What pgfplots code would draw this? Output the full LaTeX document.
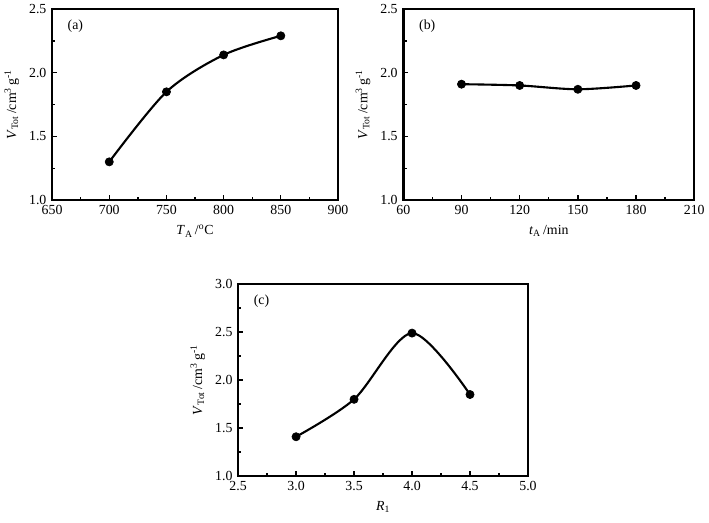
\documentclass[border=0pt]{standalone}
\usepackage{fontspec}
\setmainfont{Liberation Serif}
\usepackage{pgfplots}
\pgfplotsset{compat=1.18}
\newcommand\fs{\fontsize{10.5}{12}\selectfont}
\pgfplotsset{
  panel/.style={scale only axis, line width=1.9pt,
    tick align=inside, xtick pos=bottom, ytick pos=left,
    minor tick num=1, major tick length=3.5pt, minor tick length=2.5pt,
    every tick/.style={black, line width=1pt},
    tick label style={font=\fs}, label style={font=\fs},
    /pgf/number format/assume math mode=true,
    yticklabel style={/pgf/number format/.cd, fixed, fixed zerofill, precision=1},
    ylabel={\textit{V}\textsubscript{Tot}\,/cm\textsuperscript{3}\,g\textsuperscript{-1}},
    ylabel shift=0pt},
  crv/.style={black, line width=1.6pt, smooth, mark=*, mark size=3.1pt,
    mark options={fill=black, line width=0.5pt}},
}
\tikzset{tag/.style={anchor=north west, font=\fs}}
\begin{document}
\begin{tikzpicture}
\path (0,0) rectangle (531.75pt,-394.5pt);
% (a)
\begin{axis}[panel, at={(36.75pt,-5.25pt)}, anchor=north west,
  width=216.75pt, height=144.75pt,
  xmin=650, xmax=900, xtick={650,700,...,900},
  ymin=1, ymax=2.5, ytick={1,1.5,2,2.5},
  xticklabel style={/pgf/number format/.cd, fixed, precision=0},
  xlabel={\textit{T}\textsubscript{A}\,/\textsuperscript{o}C}]
\addplot[crv] coordinates {(700,1.30) (750,1.85) (800,2.14) (850,2.29)};
\node[tag] at (rel axis cs:0.035,0.975) {(a)};
\end{axis}
% (b)
\begin{axis}[panel, at={(303pt,-5.25pt)}, anchor=north west,
  width=220.5pt, height=144.75pt,
  xmin=60, xmax=210, xtick={60,90,...,210},
  ymin=1, ymax=2.5, ytick={1,1.5,2,2.5},
  xticklabel style={/pgf/number format/.cd, fixed, precision=0},
  xlabel={\textit{t}\textsubscript{A}\,/min}]
\addplot[crv] coordinates {(90,1.91) (120,1.90) (150,1.87) (180,1.90)};
\node[tag] at (rel axis cs:0.035,0.975) {(b)};
\end{axis}
% (c)
\begin{axis}[panel, at={(177.75pt,-213.75pt)}, anchor=north west,
  width=219.75pt, height=145.5pt,
  xmin=2.5, xmax=5, xtick={2.5,3,...,5},
  ymin=1, ymax=3, ytick={1,1.5,2,2.5,3},
  xticklabel style={/pgf/number format/.cd, fixed, fixed zerofill, precision=1},
  xlabel={\textit{R}\textsubscript{1}}]
\addplot[crv] coordinates {(3.0,1.41) (3.5,1.80) (4.0,2.49) (4.5,1.85)};
\node[tag] at (rel axis cs:0.035,0.975) {(c)};
\end{axis}
\end{tikzpicture}
\end{document}
